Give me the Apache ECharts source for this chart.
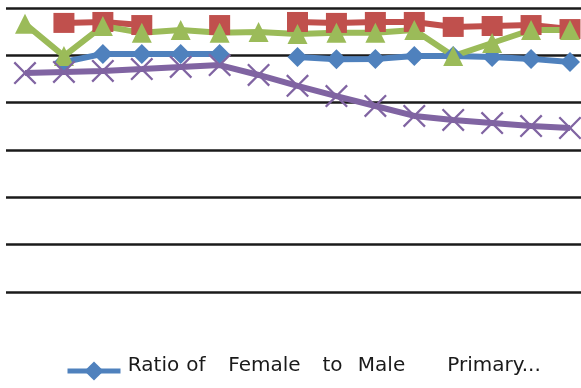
<!DOCTYPE html>
<html>
<head>
<meta charset="utf-8">
<script src="https://cdn.jsdelivr.net/npm/echarts@6/dist/echarts.min.js"></script>
<style>
  html, body { margin: 0; padding: 0; background: #fff; }
  #chart { width: 581px; height: 388px; }
</style>
</head>
<body>
<div id="chart"></div>
<script>
// Years on the horizontal axis (labels are not shown)
const years = ['1995', '1996', '1997', '1998', '1999', '2000', '2001', '2002',
               '2003', '2004', '2005', '2006', '2007', '2008', '2009'];

// Gender ratios per year; null marks a missing year
const primaryRatio   = [null, 0.972, 1.006, 1.006, 1.006, 1.006, null, 0.993,
                        0.983, 0.985, 0.997, 0.997, 0.993, 0.985, 0.972];
const secondaryRatio = [null, 1.137, 1.141, 1.128, null, 1.128, null, 1.141,
                        1.137, 1.141, 1.141, 1.120, 1.124, 1.128, 1.111];
const tertiaryRatio  = [1.133, 0.997, 1.124, 1.095, 1.107, 1.095, 1.099, 1.090,
                        1.095, 1.095, 1.107, 0.997, 1.052, 1.107, 1.107];
const laborRatio     = [0.925, 0.930, 0.934, 0.942, 0.951, 0.959, 0.917, 0.871,
                        0.828, 0.786, 0.744, 0.727, 0.714, 0.701, 0.693];

const seriesNames = [
  'Ratio of Female to Male Primary Enrollment',
  'Ratio of Female to Male Secondary Enrollment',
  'Ratio of Female to Male Tertiary Enrollment',
  'Ratio of Female to Male Labor Participation'
];

// Words of the shortened legend label, each centred in its own box
const legendWords = ['Ratio', 'of', 'Female', 'to', 'Male', 'Primary...'];
const legendWordWidths = [56, 29, 108, 28, 70, 155];

// X-shaped marker as a filled outline
const crossPath = 'path://M0,0.7 L0.7,0 L5,4.3 L9.3,0 L10,0.7 L5.7,5 L10,9.3 L9.3,10 L5,5.7 L0.7,10 L0,9.3 L4.3,5 Z';

function lineSeries(name, data, color, symbol, size) {
  return {
    name: name,
    type: 'line',
    xAxisIndex: 0,
    yAxisIndex: 0,
    data: data,
    connectNulls: false,
    symbol: symbol,
    symbolSize: size,
    showAllSymbol: true,
    lineStyle: { color: color, width: 6 },
    itemStyle: { color: color, borderWidth: 0 },
    emphasis: { disabled: true },
    animation: false
  };
}

const rich = {};
legendWords.forEach(function (w, i) {
  rich['w' + i] = {
    width: legendWordWidths[i],
    align: 'center',
    fontFamily: 'DejaVu Sans',
    fontSize: 20,
    color: '#1a1a1a',
    padding: [0, 0, 10, 0]
  };
});

const plotTop = 8;
const plotBottom = 96;

const chart = echarts.init(document.getElementById('chart'), null, { renderer: 'canvas' });
chart.setOption({
  backgroundColor: '#ffffff',
  grid: [
    // plotting area for the series: first and last year sit at the edges
    { left: 25, right: 11, top: plotTop, bottom: plotBottom, containLabel: false },
    // wider area that carries the horizontal gridlines
    { left: 6, right: 0, top: plotTop, bottom: plotBottom, containLabel: false }
  ],
  xAxis: [
    {
      type: 'category', gridIndex: 0, data: years, boundaryGap: false,
      axisLine: { show: false }, axisTick: { show: false }, axisLabel: { show: false },
      splitLine: { show: false }
    },
    {
      type: 'value', gridIndex: 1, min: 0, max: 1,
      axisLine: { show: false }, axisTick: { show: false }, axisLabel: { show: false },
      splitLine: { show: false }
    }
  ],
  yAxis: [
    {
      type: 'value', gridIndex: 0, min: 0, max: 1.2, interval: 0.2,
      axisLine: { show: false }, axisTick: { show: false }, axisLabel: { show: false },
      splitLine: { show: false }
    },
    {
      type: 'value', gridIndex: 1, min: 0, max: 1.2, interval: 0.2,
      axisLine: { show: false }, axisTick: { show: false }, axisLabel: { show: false },
      splitLine: { show: true, lineStyle: { color: '#1a1a1a', width: 2.5 } },
      z: 0
    }
  ],
  legend: {
    data: [seriesNames[0]],
    left: 60,
    top: 351,
    itemWidth: 53,
    itemHeight: 24,
    itemGap: 10,
    lineStyle: { width: 5 },
    formatter: function () {
      return legendWords.map(function (w, i) { return '{w' + i + '|' + w + '}'; }).join('');
    },
    textStyle: { fontFamily: 'DejaVu Sans', fontSize: 20, color: '#1a1a1a', rich: rich }
  },
  series: [
    lineSeries(seriesNames[0], primaryRatio, '#4F81BD', 'diamond', 20),
    lineSeries(seriesNames[1], secondaryRatio, '#C0504D', 'rect', [21, 20]),
    lineSeries(seriesNames[2], tertiaryRatio, '#9BBB59', 'triangle', [20, 20]),
    lineSeries(seriesNames[3], laborRatio, '#8064A2', crossPath, 23)
  ]
});
</script>
</body>
</html>
